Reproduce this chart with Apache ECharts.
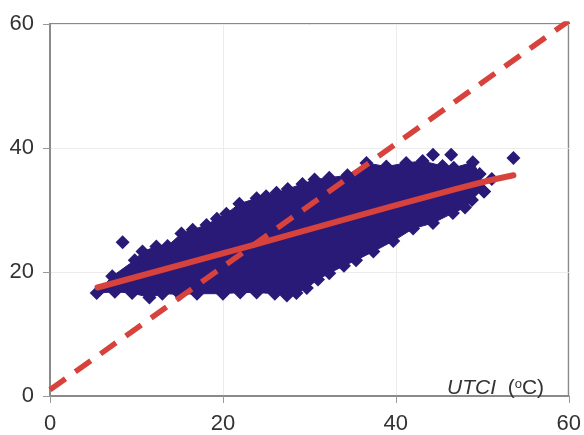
<!DOCTYPE html>
<html><head><meta charset="utf-8">
<style>html,body{margin:0;padding:0;background:#fff}#c{width:584px;height:435px;filter:blur(0.5px)}</style>
<script src="https://cdn.jsdelivr.net/npm/echarts@6/dist/echarts.min.js"></script>
</head><body><div id="c"></div>
<script>
// Edge of the solid cloud (marker centres)
const upperX = [5.4,7.2,9.8,10.7,12.3,13.6,15.2,16.5,18.1,19.3,20.4,21.9,23.9,25,26.2,27.5,29.2,30.6,32.3,34.4,36.6,38.9,41.2,43.1,45.4,46.7,48.9,49.7,50.2];
const upperY = [16.6,19.3,21.9,23.3,24.1,24.2,26.2,26.8,27.6,28.6,29.4,31,31.9,32.2,32.8,33.4,34.2,34.9,35.2,35.6,37.6,37,37.6,37.9,37.1,36.8,37.7,35.8,33];
const lowerX = [50.2,49,48.8,48,46.6,44.3,42,39.7,37.4,35.4,34,32.3,31,29.7,28.5,27.4,26,23.9,22,20,17,15,13,11.5,9.5,7.5];
const lowerY = [33,33,31.6,30.4,29.5,27.9,27,25,23.3,21.9,21,19.8,18.8,17.4,16.6,16.2,16.5,16.7,16.7,16.5,16.5,16.4,16.5,15.9,16.6,16.8];
// Stray points outside the cloud
const strayX = [8.4,44.3,46.4,51.1,53.6];
const strayY = [24.8,38.9,38.9,35,38.4];
// Fitted line and 1:1 line
const fitX = [5.5,23.9,27.7,39.3,47,50.9,53.6];
const fitY = [17.5,24.5,26,30.5,33.4,34.8,35.6];
const identityX = [0,60];
const identityY = [1,60.5];

const zip = (a,b) => a.map((v,i)=>[v,b[i]]);
const outline = zip(upperX,upperY).concat(zip(lowerX,lowerY));
const navy = '#2a1a78', red = '#d8423c';

const chart = echarts.init(document.getElementById('c'), null, {renderer:'canvas'});
const axisCommon = {
  type:'value', min:0, max:60, interval:20,
  axisLine:{show:true,onZero:false,lineStyle:{color:'#8a8a8a',width:2}},
  axisTick:{show:true,length:7,lineStyle:{color:'#9a9a9a',width:1}},
  splitLine:{show:true,lineStyle:{color:'#ececec',width:1}},
  axisLabel:{color:'#333',fontSize:22,fontFamily:'Liberation Sans'}
};
chart.setOption({
  animation:false,
  grid:{left:50,top:24,width:519,height:374,containLabel:false,show:true,borderColor:'#8a8a8a',borderWidth:2,backgroundColor:'transparent'},
  title:{
    left:442,top:373,
    text:'{i|UTCI}{n|  (}{s|o}{n|C)}',
    textStyle:{fontWeight:'normal',rich:{
      i:{fontFamily:'Liberation Sans',fontStyle:'italic',fontWeight:'normal',fontSize:21,color:'#333'},
      n:{fontFamily:'Liberation Sans',fontWeight:'normal',fontSize:21,color:'#333'},
      s:{fontFamily:'Liberation Sans',fontWeight:'normal',fontSize:13,color:'#333',verticalAlign:'top',padding:[0,0,6,0]}
    }}
  },
  xAxis:Object.assign({},axisCommon,{axisLabel:Object.assign({},axisCommon.axisLabel,{margin:17})}),
  yAxis:Object.assign({},axisCommon,{axisLabel:Object.assign({},axisCommon.axisLabel,{margin:16})}),
  series:[
    {type:'custom',coordinateSystem:'cartesian2d',silent:true,z:2,
     data:outline,encode:{x:0,y:1},
     renderItem:(p,api)=> p.dataIndex!==0 ? null : {
       type:'polygon',
       shape:{points:outline.map(q=>api.coord(q))},
       style:{fill:navy,stroke:navy,lineWidth:1}
     }},
    {type:'scatter',symbol:'diamond',symbolSize:14,z:3,silent:true,
     itemStyle:{color:navy,opacity:1},
     data:outline.concat(zip(strayX,strayY))},
    {type:'line',z:4,silent:true,showSymbol:false,symbol:'none',
     lineStyle:{color:red,width:6,cap:'round'},
     data:zip(fitX,fitY)},
    {type:'line',z:5,silent:true,showSymbol:false,symbol:'none',
     lineStyle:{color:red,width:5.5,type:[19,12]},
     data:zip(identityX,identityY)}
  ]
});
</script></body></html>
